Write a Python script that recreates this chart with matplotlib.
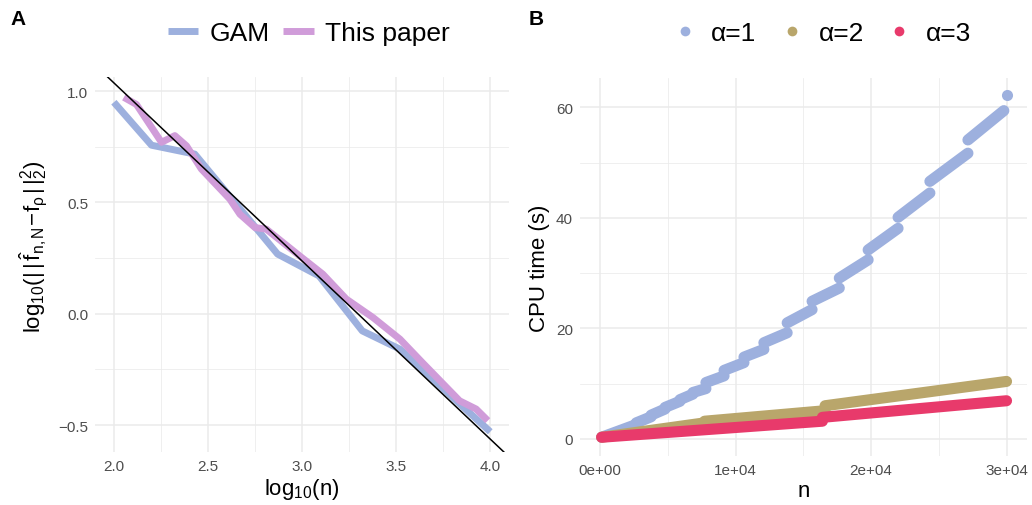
import matplotlib
matplotlib.use("Agg")
import matplotlib.pyplot as plt
from matplotlib.lines import Line2D

plt.rcParams['font.family'] = ['Liberation Sans', 'DejaVu Sans']
plt.rcParams['mathtext.fontset'] = 'custom'
plt.rcParams['mathtext.rm'] = 'Liberation Sans'
plt.rcParams['mathtext.it'] = 'Liberation Sans'
plt.rcParams['mathtext.bf'] = 'Liberation Sans:bold'

# ---------------- Panel A data ----------------
gam_x = [2.0, 2.2, 2.43, 2.87, 3.09, 3.32, 3.52, 4.0]
gam_y = [0.95, 0.757, 0.717, 0.268, 0.17, -0.077, -0.159, -0.53]
paper_x = [2.053, 2.12, 2.253, 2.324, 2.386, 2.465, 2.616, 2.67, 2.75, 2.81,
           2.987, 3.11, 3.235, 3.377, 3.52, 3.64, 3.837, 3.925, 3.987]
paper_y = [0.972, 0.94, 0.77, 0.80, 0.754, 0.65, 0.515, 0.447, 0.387, 0.38,
           0.26, 0.178, 0.066, -0.017, -0.114, -0.22, -0.391, -0.428, -0.48]
ref_intercept = 2.637
ref_slope = -0.8
a_xticks = [2.0, 2.5, 3.0, 3.5, 4.0]
a_yticks = [-0.5, 0.0, 0.5, 1.0]

# ---------------- Panel B data ----------------
# piecewise runs of points: break positions, value at start and end of each run
blue_breaks = [100, 2650, 3750, 4780, 5880, 6840, 7800, 9140, 10610, 12080,
               13800, 15640, 17650, 19780, 21990, 24340, 27150, 29800]
blue_start = [0.3, 2.9, 4.3, 5.7, 7.1, 8.4, 10.2, 12.4, 14.8, 17.4,
              21.0, 24.9, 29.1, 34.2, 40.1, 46.6, 54.1]
blue_end = [2.6, 4.0, 5.4, 6.8, 8.1, 9.1, 11.4, 13.8, 16.2, 19.2,
            23.4, 27.3, 32.4, 38.1, 44.5, 51.7, 59.4]
blue_last_n = 30000
blue_last_y = 62.2

gold_breaks = [100, 7700, 16600, 30000]
gold_start = [0.3, 3.2, 6.0]
gold_end = [2.9, 5.1, 10.4]

red_breaks = [100, 16400, 30000]
red_start = [0.3, 3.9]
red_end = [3.2, 6.9]

b_xticks = [0, 10000, 20000, 30000]
b_xlabels = ['0e+00', '1e+04', '2e+04', '3e+04']
b_yticks = [0, 20, 40, 60]

C_BLUE = '#9DB0DE'
C_PURPLE = '#D09CD9'
C_GOLD = '#B9A66B'
C_RED = '#E83A6B'
GRID = '#EBEBEB'
TICKC = '#4D4D4D'

fig = plt.figure(figsize=(10.32, 5.06), dpi=100)

def style(ax):
    for s in ax.spines.values():
        s.set_visible(False)
    ax.tick_params(length=0, labelsize=11, labelcolor=TICKC, pad=5)
    ax.grid(True, which='major', color=GRID, linewidth=1.1)
    ax.grid(True, which='minor', color=GRID, linewidth=0.55)
    ax.set_axisbelow(True)
    ax.tick_params(which='minor', length=0)

# ---------- Panel A ----------
axA = fig.add_axes([0.0921, 0.1047, 0.4012, 0.741])
style(axA)
axA.plot(gam_x, gam_y, color=C_BLUE, lw=5, solid_joinstyle='round', solid_capstyle='butt', label='GAM')
axA.plot(paper_x, paper_y, color=C_PURPLE, lw=5, solid_joinstyle='round', solid_capstyle='butt', label='This paper')
axA.axline((0, ref_intercept), slope=ref_slope, color='black', lw=1.1)
axA.set_xlim(1.9, 4.1)
axA.set_ylim(-0.621, 1.063)
axA.set_xticks(a_xticks)
axA.set_xticklabels(['%.1f' % v for v in a_xticks])
axA.set_yticks(a_yticks)
axA.set_yticklabels(['\u22120.5', '0.0', '0.5', '1.0'])
axA.set_xticks([2.25, 2.75, 3.25, 3.75], minor=True)
axA.set_yticks([-0.25, 0.25, 0.75], minor=True)
axA.set_xlabel(r'$\mathrm{log}_{10}(\mathrm{n})$', fontsize=16, labelpad=2)
axA.set_ylabel(r'$\mathrm{log}_{10}(|\,|\,\hat{\mathrm{f}}_{\mathrm{n,N}}\!-\!\mathrm{f}_{\rho}\,|\,|_2^2)$',
               fontsize=16)
axA.yaxis.set_label_coords(-0.112, 0.55)
legA = axA.legend(loc='center', bbox_to_anchor=(0.2994, 0.932), bbox_transform=fig.transFigure,
                  ncol=2, frameon=False, fontsize=19, handlelength=1.15, handletextpad=0.45,
                  columnspacing=0.5)
for h in legA.get_lines():
    h.set_linewidth(5)
fig.text(0.010, 0.962, 'A', fontsize=15, fontweight='bold', va='center', ha='left')

# ---------- Panel B ----------
axB = fig.add_axes([0.562, 0.0968, 0.433, 0.747])
style(axB)
LW_B = 8
def runs(ax, breaks, starts, ends, color):
    for i in range(len(starts)):
        ax.plot([breaks[i], breaks[i + 1]], [starts[i], ends[i]], color=color, lw=LW_B,
                solid_capstyle='round')
runs(axB, blue_breaks, blue_start, blue_end, C_BLUE)
axB.plot([blue_last_n], [blue_last_y], 'o', color=C_BLUE, ms=LW_B, mec='none')
runs(axB, gold_breaks, gold_start, gold_end, C_GOLD)
runs(axB, red_breaks, red_start, red_end, C_RED)
axB.set_xlim(-1500, 31500)
axB.set_ylim(-3.1, 65.3)
axB.set_xticks(b_xticks)
axB.set_xticklabels(b_xlabels)
axB.set_yticks(b_yticks)
axB.set_xticks([5000, 15000, 25000], minor=True)
axB.set_yticks([10, 30, 50], minor=True)
axB.set_xlabel('n', fontsize=16, labelpad=2)
axB.set_ylabel('CPU time (s)', fontsize=16, labelpad=4)
handles = [Line2D([], [], ls='none', marker='o', ms=7, color=c, mec='none')
           for c in (C_BLUE, C_GOLD, C_RED)]
axB.legend(handles, ['\u03b1=1', '\u03b1=2', '\u03b1=3'], loc='center',
           bbox_to_anchor=(0.7946, 0.932), bbox_transform=fig.transFigure,
           ncol=3, frameon=False, fontsize=19, handlelength=1.2, handletextpad=0.4,
           columnspacing=0.75)
fig.text(0.512, 0.962, 'B', fontsize=15, fontweight='bold', va='center', ha='left')

fig.savefig('out.png', dpi=100)
